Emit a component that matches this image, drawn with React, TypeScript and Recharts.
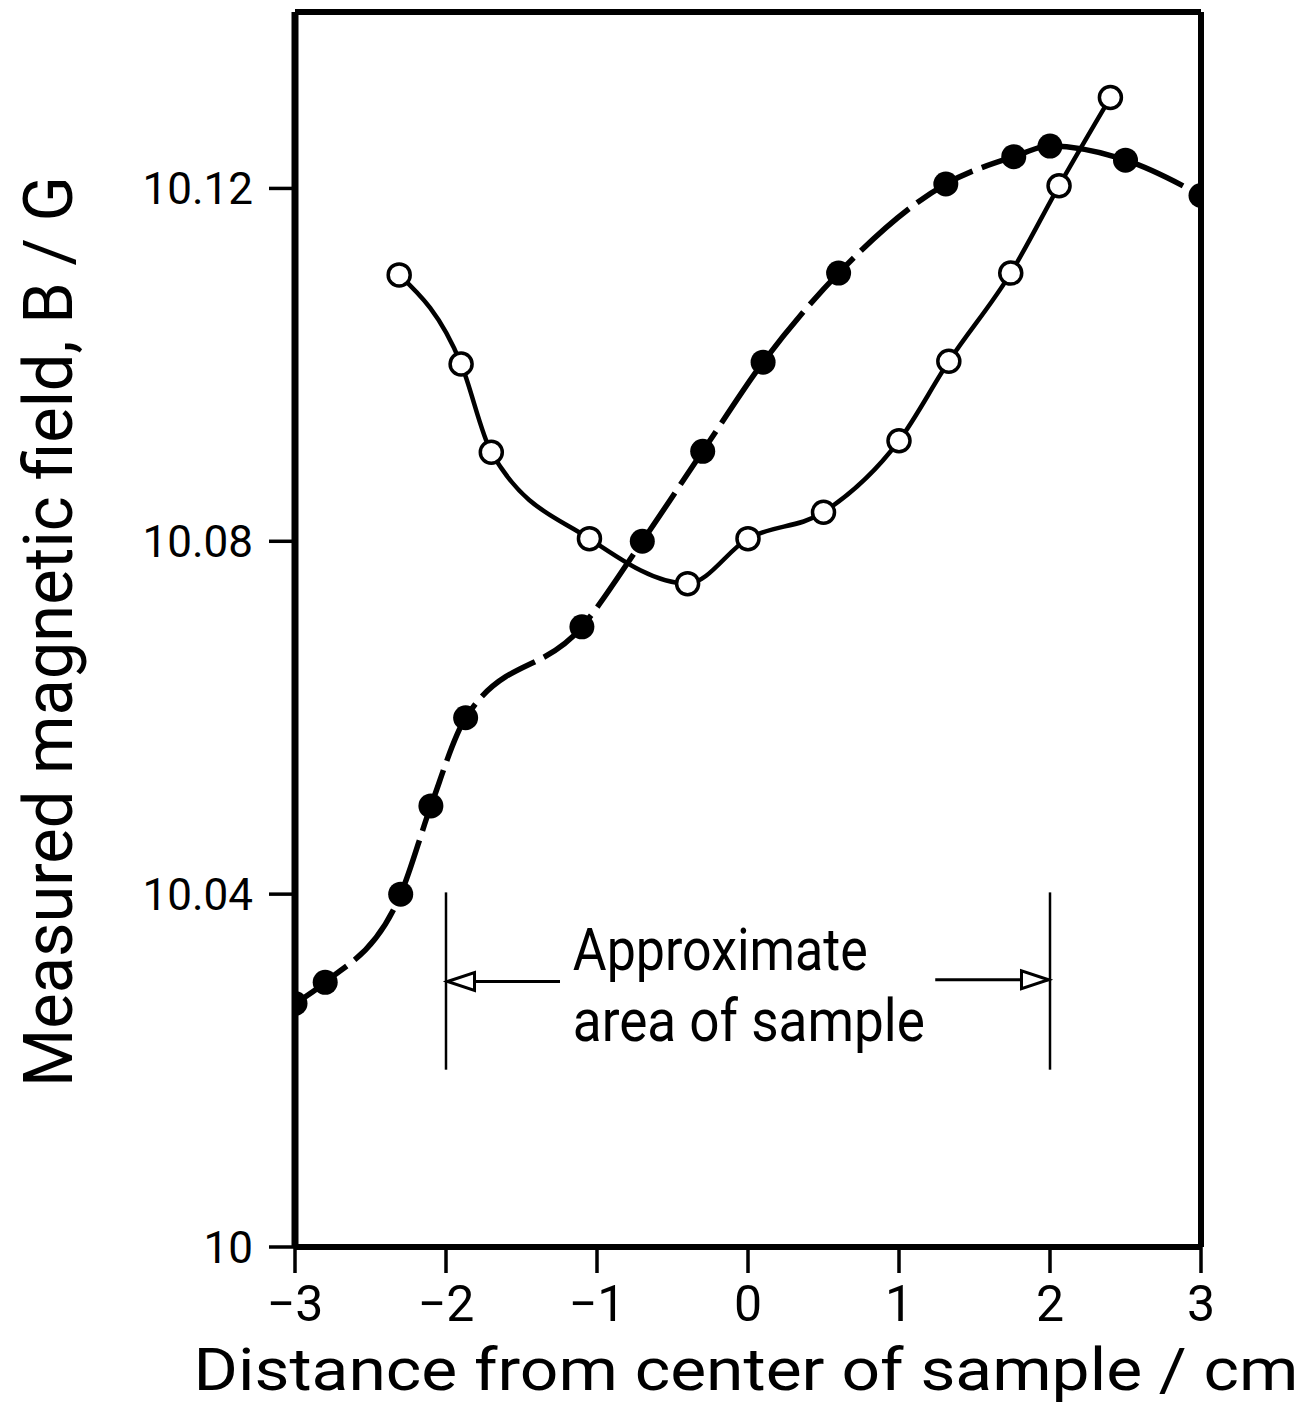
import React from "react";
import {
  LineChart,
  Line,
  XAxis,
  YAxis,
  ReferenceLine,
  ReferenceDot,
  Label,
} from "recharts";

// filled circles (dashed curve)
const filledX = [-3, -2.8, -2.3, -2.1, -1.87, -1.1, -0.7, -0.3, 0.1, 0.6, 1.31, 1.76, 2.0, 2.5, 3.0];
const filledB = [
  10.0276, 10.03, 10.04, 10.05, 10.06, 10.0703, 10.08, 10.0902, 10.1003, 10.1104, 10.1205,
  10.1236, 10.1248, 10.1232, 10.1192,
];

// open circles (solid curve)
const openX = [-2.31, -1.9, -1.7, -1.05, -0.4, 0, 0.5, 1.0, 1.33, 1.74, 2.06, 2.4];
const openB = [
  10.1102, 10.1001, 10.0901, 10.0803, 10.0752, 10.0803, 10.0833, 10.0914, 10.1004, 10.1104,
  10.1203, 10.1303,
];

const xTicks = [-3, -2, -1, 0, 1, 2, 3];
const yTicks = [10, 10.04, 10.08, 10.12];
const sampleEdges = [-2, 2];
const noteLines = ["Approximate", "area of sample"];

const FONT = "Roboto, 'DejaVu Sans', sans-serif";

const filledData = filledX.map((x, i) => ({ x, b: filledB[i] }));
const openData = openX.map((x, i) => ({ x, b: openB[i] }));

const FilledDot = (props: any) => (
  <circle key={`f-${props.index}`} cx={props.cx} cy={props.cy} r={12.5} fill="#000" />
);

const OpenDot = (props: any) => (
  <circle
    key={`o-${props.index}`}
    cx={props.cx}
    cy={props.cy}
    r={11}
    fill="#fff"
    stroke="#000"
    strokeWidth={3.5}
  />
);

// open arrowhead, dir = -1 points left, 1 points right
const arrowHead = (dir: number) => (props: any) => {
  const { cx, cy } = props;
  const back = cx - dir * 27;
  return (
    <polygon
      points={`${cx},${cy} ${back},${cy - 9} ${back},${cy + 9}`}
      fill="#fff"
      stroke="#000"
      strokeWidth={3}
    />
  );
};

const noteText = (text: string, len: number) => (props: any) => (
  <text
    x={props.cx}
    y={props.cy}
    fontFamily={FONT}
    fontSize={60}
    fill="#000"
    textLength={len}
    lengthAdjust="spacingAndGlyphs"
  >
    {text}
  </text>
);

const XTitle = (props: any) => {
  const { x, y, width } = props.viewBox;
  return (
    <text
      x={x + width / 2 - 2}
      y={y + 143}
      textAnchor="middle"
      fontFamily={FONT}
      fontSize={60}
      fill="#000"
      textLength={1105}
      lengthAdjust="spacingAndGlyphs"
    >
      Distance from center of sample / cm
    </text>
  );
};

const YTitle = (props: any) => {
  const { x, y, height } = props.viewBox;
  const cx = x - 123;
  const cy = y + height / 2 + 2;
  return (
    <text
      x={cx}
      y={cy}
      transform={`rotate(-90, ${cx}, ${cy})`}
      textAnchor="middle"
      fontFamily={FONT}
      fontSize={68}
      fill="#000"
      textLength={911}
      lengthAdjust="spacingAndGlyphs"
    >
      Measured magnetic field, B / G
    </text>
  );
};

export default function App() {
  return (
    <LineChart
      width={1300}
      height={1409}
      margin={{ top: 4, right: 107, bottom: 70, left: 187 }}
    >
      <XAxis
        dataKey="x"
        type="number"
        domain={[-3, 3]}
        ticks={xTicks}
        allowDataOverflow
        height={100}
        tickSize={26}
        tickMargin={12}
        axisLine={{ stroke: "#000", strokeWidth: 6 }}
        tickLine={{ stroke: "#000", strokeWidth: 3.5 }}
        tick={{ fill: "#000", fontSize: 50, fontFamily: FONT }}
        tickFormatter={(v: number) => (v < 0 ? `−${Math.abs(v)}` : `${v}`)}
      >
        <Label content={XTitle} />
      </XAxis>
      <YAxis
        type="number"
        domain={[10, 10.14]}
        ticks={yTicks}
        allowDataOverflow
        width={100}
        tickSize={26}
        tickMargin={16}
        axisLine={{ stroke: "#000", strokeWidth: 7 }}
        tickLine={{ stroke: "#000", strokeWidth: 3.5 }}
        tick={{ fill: "#000", fontSize: 44, fontFamily: FONT }}
        tickFormatter={(v: number) => (v === 10 ? "10" : v.toFixed(2))}
      >
        <Label content={YTitle} />
      </YAxis>

      {/* frame: top and right */}
      <ReferenceLine y={10.14} stroke="#000" strokeWidth={6} />
      <ReferenceLine x={3} stroke="#000" strokeWidth={6} />

      {/* sample area markers */}
      {sampleEdges.map((e) => (
        <ReferenceLine
          key={`edge-${e}`}
          segment={[
            { x: e, y: 10.0402 },
            { x: e, y: 10.0201 },
          ]}
          stroke="#000"
          strokeWidth={2.5}
        />
      ))}
      <ReferenceLine
        segment={[
          { x: -1.99, y: 10.0301 },
          { x: -1.245, y: 10.0301 },
        ]}
        stroke="#000"
        strokeWidth={3}
      />
      <ReferenceLine
        segment={[
          { x: 1.24, y: 10.0303 },
          { x: 1.99, y: 10.0303 },
        ]}
        stroke="#000"
        strokeWidth={3}
      />
      <ReferenceDot x={-1.99} y={10.0301} r={0} shape={arrowHead(-1)} />
      <ReferenceDot x={1.99} y={10.0303} r={0} shape={arrowHead(1)} />
      <ReferenceDot x={-1.16} y={10.0314} r={0} shape={noteText(noteLines[0], 295)} />
      <ReferenceDot x={-1.16} y={10.0233} r={0} shape={noteText(noteLines[1], 352)} />

      <Line
        data={filledData}
        dataKey="b"
        type="monotone"
        stroke="#000"
        strokeWidth={5.5}
        strokeDasharray="64 10"
        dot={FilledDot}
        activeDot={false}
        isAnimationActive={false}
      />
      <Line
        data={openData}
        dataKey="b"
        type="monotone"
        stroke="#000"
        strokeWidth={4.5}
        dot={OpenDot}
        activeDot={false}
        isAnimationActive={false}
      />
    </LineChart>
  );
}
